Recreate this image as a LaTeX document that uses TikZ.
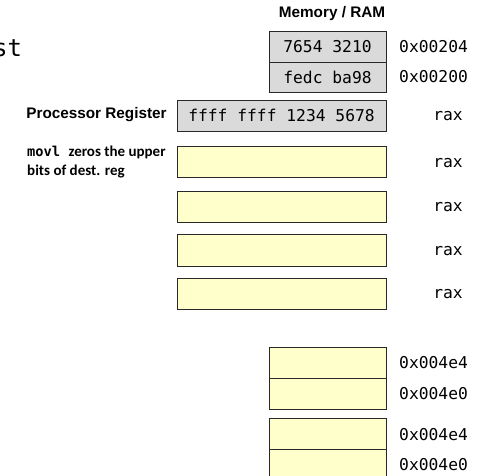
\documentclass[tikz,border=0pt]{standalone}
\usepackage{fontspec}
\setmainfont{Liberation Sans}
\newfontfamily\monof{DejaVu Sans Mono}
\newfontfamily\calib{Carlito}
\definecolor{cellgrey}{RGB}{218,218,218}
\definecolor{cellyellow}{RGB}{255,255,204}
\definecolor{edge}{RGB}{40,40,40}
\tikzset{
  cell/.style={draw=edge, line width=0.9pt, inner sep=0pt, minimum height=31pt,
    font=\monof\fontsize{16.3}{18}\selectfont},
  memcell/.style={cell, minimum width=117pt},
  regcell/.style={cell, minimum width=209pt},
  grey/.style={fill=cellgrey},
  yellow/.style={fill=cellyellow},
  addr/.style={anchor=west, inner sep=0pt, font=\monof\fontsize{16.3}{18}\selectfont},
  regname/.style={inner sep=0pt, font=\monof\fontsize{16.3}{18}\selectfont},
  heading/.style={inner sep=0pt, font=\bfseries\fontsize{15.3}{18}\selectfont},
}
\begin{document}
\begin{tikzpicture}[x=1pt,y=-1pt]
\useasboundingbox (0,0) rectangle (487,475);

% partial title text at the left edge
\node[anchor=base west, inner sep=0pt, font=\monof\fontsize{24}{28}\selectfont] (title) at (-7,56) {st};

% memory words
\node[heading] (memhead) at (332,14) {Memory / RAM};
\node[memcell, grey] (m1) at (327.5,46.5) {7654 3210};
\node[memcell, grey, minimum height=30pt] (m0) at (327.5,77) {fedc ba98};
\node[addr] (a1) at (399,46.5) {0x00204};
\node[addr] (a0) at (399,77) {0x00200};

% processor register
\node[heading] (reghead) at (96.5,115) {Processor Register};
\node[regcell, grey] (r0) at (281.5,115.5) {ffff ffff 1234 5678};
\node[regname] (n0) at (448,116) {rax};

\node[anchor=north west, inner sep=0pt, align=left,
      font=\calib\bfseries\fontsize{15}{18.5}\selectfont] (note) at (27,146)
  {{\monof\fontsize{13.7}{18}\selectfont movl}\hspace{5pt} zeros the upper\\bits of dest. reg};

\node[regcell, yellow] (r1) at (281.5,161.5) {};
\node[regcell, yellow] (r2) at (281.5,206.5) {};
\node[regcell, yellow, minimum height=32pt] (r3) at (281.5,250) {};
\node[regcell, yellow] (r4) at (281.5,293.5) {};
\node[regname] (n1) at (448,163) {rax};
\node[regname] (n2) at (448,207) {rax};
\node[regname] (n3) at (448,251) {rax};
\node[regname] (n4) at (448,294.5) {rax};

% memory words below
\node[memcell, yellow] (b1) at (327.5,362.5) {};
\node[memcell, yellow] (b0) at (327.5,393.5) {};
\node[memcell, yellow] (c1) at (327.5,433.5) {};
\node[memcell, yellow] (c0) at (327.5,464.5) {};
\node[addr] (ab1) at (399,363) {0x004e4};
\node[addr] (ab0) at (399,394) {0x004e0};
\node[addr] (ac1) at (399,435) {0x004e4};
\node[addr] (ac0) at (399,465) {0x004e0};
\end{tikzpicture}
\end{document}
